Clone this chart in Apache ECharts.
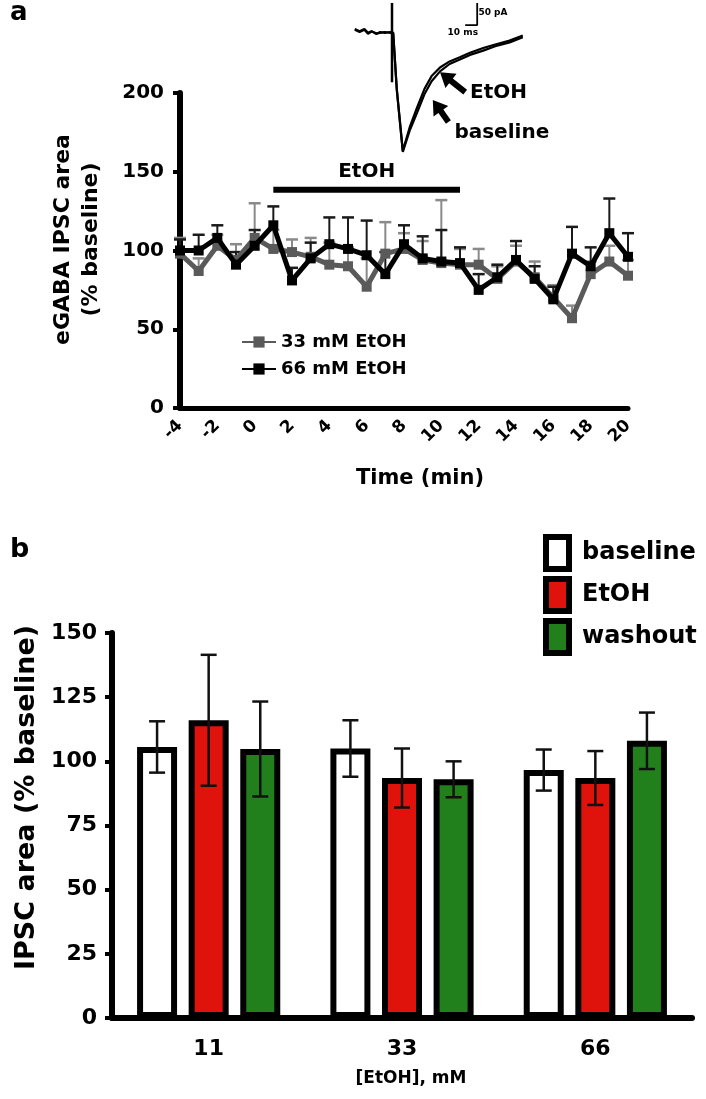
<!DOCTYPE html>
<html><head><meta charset="utf-8">
<script src="https://cdn.jsdelivr.net/npm/echarts@6/dist/echarts.min.js"></script>
<style>html,body{margin:0;padding:0;background:#fff}#c{width:706px;height:1099px}</style>
</head><body><div id="c"></div>
<script>
// ---------- Panel a data ----------
const minutes   = [-4,-3,-2,-1,0,1,2,3,4,5,6,7,8,9,10,11,12,13,14,15,16,17,18,19,20];
const etoh33    = [98,87,103,94,108,101,99,96,91,90,77,98,101,94,92,91,91,82,93,83,70,57,85,93,84];
const etoh33Err = [10,8,7,10,22,12,8,12,14,12,18,20,10,12,40,10,10,8,10,10,8,8,8,10,10];
const etoh66    = [100,100,108,91,103,116,81,95,104,101,97,85,104,95,93,92,75,83,94,82,69,98,90,111,96];
const etoh66Err = [7,10,8,8,10,12,8,10,17,20,22,14,12,14,20,10,10,8,12,8,8,17,12,22,15];
const etohBar   = [1, 11, 138.5];           // start min, end min, height
// inset trace (ms, pA)
const traceBaseline = [[4,3],[8,-2],[12,3],[15,-6],[18,-2],[22,-9],[25,-4],[29,-6],[34,-4],[36,-6],[39,-138],[44,-281],[50,-230],[56,-190],[62,-148],[68,-118],[75,-95],[83,-78],[92,-67],[100,-57],[111,-47],[121,-37],[133,-28],[144,-16]];
const traceEtOH     = [[4,1],[8,-4],[12,1],[15,-8],[18,-3],[22,-7],[25,-6],[29,-4],[34,-6],[36,-6],[39,-136],[44,-279],[50,-222],[56,-178],[62,-136],[68,-106],[75,-86],[83,-72],[92,-62],[100,-52],[111,-41],[121,-33],[133,-24],[144,-12]];
const stimArtifact  = [[35,63],[35,-120]];
const scaleBar      = [[96,12],[106,12],[106,63]];
const insetArrows   = [[96,-143,75,-97],[82,-212,69,-161]];
const insetLabels   = ['EtOH','baseline','50 pA','10 ms'];
const insetLabelPos = [[100,-145],[87,-237],[107,40],[94,-6]];

// ---------- Panel b data ----------
const concCategories = ['11','33','66'];
const baselineVals = [105.6,105,96.6];
const baselineErr  = [10,11,8];
const etohVals     = [116,93.5,93.5];
const etohErr      = [25.5,11.5,10.5];
const washoutVals  = [104.8,93,108];
const washoutErr   = [18.5,7,11];

const F = 'DejaVu Sans';
const BW = 40, BGAP = 0.29;

function errA(vals, errs, color, z){
  return {
    type:'custom', xAxisIndex:0, yAxisIndex:0, z:z, silent:true, clip:false,
    data: minutes.map((m,i)=>[m, vals[i], errs[i]]),
    renderItem:(p, api)=>{
      const x=api.value(0), y=api.value(1), e=api.value(2);
      const a=api.coord([x,y]), b=api.coord([x,y+e]);
      return {type:'group', children:[
        {type:'line', shape:{x1:a[0],y1:a[1],x2:b[0],y2:b[1]}, style:{stroke:color,lineWidth:2}},
        {type:'line', shape:{x1:b[0]-6,y1:b[1],x2:b[0]+6,y2:b[1]}, style:{stroke:color,lineWidth:2.5}}
      ]};
    }
  };
}
function errB(s, vals, errs){
  return {
    type:'custom', xAxisIndex:1, yAxisIndex:1, z:10, silent:true, clip:false,
    data: concCategories.map((c,i)=>[i, vals[i], errs[i]]),
    renderItem:(p, api)=>{
      const i=api.value(0), v=api.value(1), e=api.value(2);
      const off=(s-1)*BW*(1+BGAP);
      const t=api.coord([i,v+e]), b=api.coord([i,v-e]);
      const x=t[0]+off;
      const st={stroke:'#111',lineWidth:2.5};
      return {type:'group', children:[
        {type:'line', shape:{x1:x,y1:t[1],x2:x,y2:b[1]}, style:st},
        {type:'line', shape:{x1:x-8,y1:t[1],x2:x+8,y2:t[1]}, style:st},
        {type:'line', shape:{x1:x-8,y1:b[1],x2:x+8,y2:b[1]}, style:st}
      ]};
    }
  };
}
function trace(name, data, w){
  return {name:name, type:'line', xAxisIndex:2, yAxisIndex:2, data:data, showSymbol:false,
    lineStyle:{color:'#000', width:w}, itemStyle:{color:'#000'}, z:5, silent:true, animation:false};
}

const option = {
  animation:false,
  textStyle:{fontFamily:F},
  grid:[
    {left:180, right:78, top:93, bottom:691},
    {left:112, right:14, top:633, bottom:81},
    {left:350, top:0, width:180, height:160}
  ],
  xAxis:[
    {type:'value', gridIndex:0, min:-4, max:20, interval:2,
     axisLine:{onZero:false, lineStyle:{color:'#000',width:5}}, axisTick:{show:false}, splitLine:{show:false},
     axisLabel:{rotate:45, margin:15, color:'#000', fontWeight:'bold', fontSize:17, fontFamily:F},
     name:'Time (min)', nameLocation:'middle', nameGap:60,
     nameTextStyle:{fontWeight:'bold', fontSize:21, color:'#000', fontFamily:F, padding:[0,0,0,32]}},
    {type:'category', gridIndex:1, data:concCategories,
     axisLine:{onZero:false, lineStyle:{color:'#000',width:6}}, axisTick:{show:false},
     axisLabel:{margin:20, color:'#000', fontWeight:'bold', fontSize:22, fontFamily:F},
     name:'[EtOH], mM', nameLocation:'middle', nameGap:52,
     nameTextStyle:{fontWeight:'bold', fontSize:17, color:'#000', fontFamily:F, padding:[0,0,0,18]}},
    {type:'value', gridIndex:2, min:0, max:150, show:false}
  ],
  yAxis:[
    {type:'value', gridIndex:0, min:0, max:200, interval:50,
     axisLine:{show:true, onZero:false, lineStyle:{color:'#000',width:6}},
     axisTick:{show:true, length:7, lineStyle:{width:4,color:'#000'}}, splitLine:{show:false},
     axisLabel:{margin:16, color:'#000', fontWeight:'bold', fontSize:20, fontFamily:F},
     name:'eGABA IPSC area\n(% baseline)', nameLocation:'middle', nameGap:75,
     nameTextStyle:{fontWeight:'bold', fontSize:22, lineHeight:28, color:'#000', fontFamily:F, padding:[0,0,0,22]}},
    {type:'value', gridIndex:1, min:0, max:150, interval:25,
     axisLine:{show:true, onZero:false, lineStyle:{color:'#000',width:6}},
     axisTick:{show:true, length:7, lineStyle:{width:4,color:'#000'}}, splitLine:{show:false},
     axisLabel:{margin:15, color:'#000', fontWeight:'bold', fontSize:22, fontFamily:F},
     name:'IPSC area (% baseline)', nameLocation:'middle', nameGap:67,
     nameTextStyle:{fontWeight:'bold', fontSize:27, color:'#000', fontFamily:F, padding:[0,0,0,56]}},
    {type:'value', gridIndex:2, min:-300, max:70, show:false}
  ],
  legend:[
    {data:['33 mM EtOH','66 mM EtOH'], orient:'vertical', left:236, top:328, itemWidth:34, itemHeight:14, itemGap:9,
     textStyle:{fontWeight:'bold', fontSize:18, color:'#000', fontFamily:F}},
    {data:['baseline','EtOH','washout'], orient:'vertical', left:538, top:529, itemWidth:23, itemHeight:32, itemGap:4,
     icon:'rect', itemStyle:{borderWidth:6, borderColor:'#000'},
     textStyle:{fontWeight:'bold', fontSize:24, color:'#000', fontFamily:F, padding:[0,0,0,8]}}
  ],
  series:[
    errA(etoh33, etoh33Err, '#8a8a8a', 1),
    errA(etoh66, etoh66Err, '#1a1a1a', 2),
    {name:'33 mM EtOH', type:'line', xAxisIndex:0, yAxisIndex:0, z:3,
     data:minutes.map((m,i)=>[m,etoh33[i]]), symbol:'rect', symbolSize:10,
     lineStyle:{color:'#5a5a5a', width:5}, itemStyle:{color:'#5a5a5a'}},
    {name:'66 mM EtOH', type:'line', xAxisIndex:0, yAxisIndex:0, z:4,
     data:minutes.map((m,i)=>[m,etoh66[i]]), symbol:'rect', symbolSize:10,
     lineStyle:{color:'#000', width:5}, itemStyle:{color:'#000'}},
    {type:'custom', xAxisIndex:0, yAxisIndex:0, z:5, silent:true, clip:false,
     data:[etohBar],
     renderItem:(p, api)=>{
       const a=api.coord([api.value(0), api.value(2)]), b=api.coord([api.value(1), api.value(2)]);
       return {type:'group', children:[
         {type:'line', shape:{x1:a[0],y1:a[1],x2:b[0],y2:b[1]}, style:{stroke:'#000',lineWidth:6}},
         {type:'text', style:{text:'EtOH', x:(a[0]+b[0])/2, y:a[1]-8, align:'center', verticalAlign:'bottom',
            font:'bold 20px "DejaVu Sans"', fill:'#000'}}
       ]};
     }},
    // panel b bars
    {name:'baseline', type:'bar', xAxisIndex:1, yAxisIndex:1, data:baselineVals, barWidth:BW, barGap:(BGAP*100)+'%',
     itemStyle:{color:'#fff', borderColor:'#000', borderWidth:6}},
    {name:'EtOH', type:'bar', xAxisIndex:1, yAxisIndex:1, data:etohVals, barWidth:BW, barGap:(BGAP*100)+'%',
     itemStyle:{color:'#e0120c', borderColor:'#000', borderWidth:6}},
    {name:'washout', type:'bar', xAxisIndex:1, yAxisIndex:1, data:washoutVals, barWidth:BW, barGap:(BGAP*100)+'%',
     itemStyle:{color:'#22801c', borderColor:'#000', borderWidth:6}},
    errB(0, baselineVals, baselineErr),
    errB(1, etohVals, etohErr),
    errB(2, washoutVals, washoutErr),
    // inset
    trace('trace baseline', traceBaseline, 2.2),
    trace('trace EtOH', traceEtOH, 2.2),
    trace('stim', stimArtifact, 2.5),
    trace('scale', scaleBar, 1.8),
    {type:'custom', xAxisIndex:2, yAxisIndex:2, z:6, silent:true, clip:false,
     data:insetArrows,
     renderItem:(p, api)=>{
       const a=api.coord([api.value(0),api.value(1)]), b=api.coord([api.value(2),api.value(3)]);
       const dx=b[0]-a[0], dy=b[1]-a[1], L=Math.hypot(dx,dy), ux=dx/L, uy=dy/L, nx=-uy, ny=ux;
       const hl=14, sw=3, hw=9, bx=b[0]-ux*hl, by=b[1]-uy*hl;
       return {type:'polygon', shape:{points:[
         [a[0]+nx*sw,a[1]+ny*sw],[bx+nx*sw,by+ny*sw],[bx+nx*hw,by+ny*hw],[b[0],b[1]],
         [bx-nx*hw,by-ny*hw],[bx-nx*sw,by-ny*sw],[a[0]-nx*sw,a[1]-ny*sw]]}, style:{fill:'#000'}};
     }},
    {type:'custom', xAxisIndex:2, yAxisIndex:2, z:6, silent:true, clip:false,
     data:insetLabelPos,
     renderItem:(p, api)=>{
       const c=api.coord([api.value(0),api.value(1)]);
       const i=p.dataIndex, small=i>=2;
       return {type:'text', style:{text:insetLabels[i], x:c[0], y:c[1], align:(i===3?'center':'left'), verticalAlign:'middle',
         font:(small?'bold 9px':'bold 20px')+' "DejaVu Sans"', fill:'#000'}};
     }}
  ],
  graphic:[
    {type:'text', left:10, top:0, style:{text:'a', font:'bold 26px "DejaVu Sans"', fill:'#000'}},
    {type:'text', left:10, top:536, style:{text:'b', font:'bold 27px "DejaVu Sans"', fill:'#000'}}
  ]
};
const chart = echarts.init(document.getElementById('c'));
chart.setOption(option);
</script>
</body></html>
